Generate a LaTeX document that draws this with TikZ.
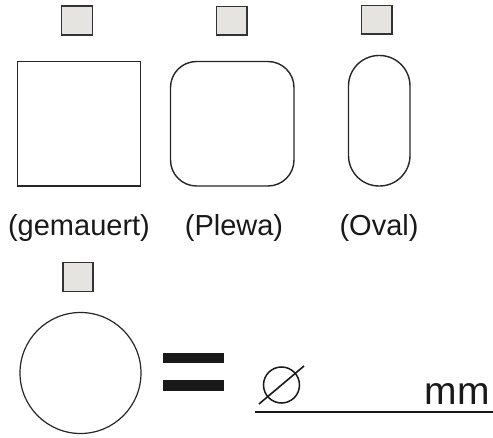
\documentclass[tikz,border=0pt]{standalone}
\usepackage{fontspec}
\setmainfont{Liberation Sans}
\begin{document}
\begin{tikzpicture}[x=1pt,y=-1pt,
  chk/.style={draw=black!80,line width=1.8pt,fill={rgb,255:red,230;green,228;blue,225}},
  shp/.style={draw=black!85,line width=1.4pt},
  lbl/.style={font=\fontsize{29}{32}\selectfont,inner sep=0pt,text=black!90},
  unit/.style={font=\fontsize{39}{42}\selectfont,inner sep=0pt,text=black!90}]
\useasboundingbox (0,0) rectangle (493,438);
% checkboxes
\draw[chk] (61.5,6) rectangle (92.5,35);
\draw[chk] (216.5,6.5) rectangle (247,35);
\draw[chk] (361.5,5.5) rectangle (392,34);
\draw[chk] (63,262.5) rectangle (93,291.5);
% shapes
\draw[shp] (17.5,61.5) rectangle (140.5,186);
\draw[shp,rounded corners=26pt] (170.5,61.5) rectangle (294,186);
\draw[shp,rounded corners=30.5pt] (348.5,55.5) rectangle (410,186);
% labels
\node[lbl] (l1) at (79,228) {(gemauert)};
\node[lbl] (l2) at (234,228) {(Plewa)};
\node[lbl] (l3) at (379,228) {(Oval)};
% circle
\draw[shp,line width=1.2pt] (80.5,373) circle (60.5);
% equals
\fill[black!90] (163,353) rectangle (224,363);
\fill[black!90] (163,380) rectangle (224,391);
% diameter sign
\draw[line width=1.5pt,black!90] (281.5,385) circle (18);
\draw[line width=1.6pt,black!90] (259,404) -- (304,366);
% line
\draw[line width=1.6pt,black!90] (255,412) -- (493,412);
\node[unit,anchor=base] (mm) at (457,405) {mm};
\end{tikzpicture}
\end{document}
